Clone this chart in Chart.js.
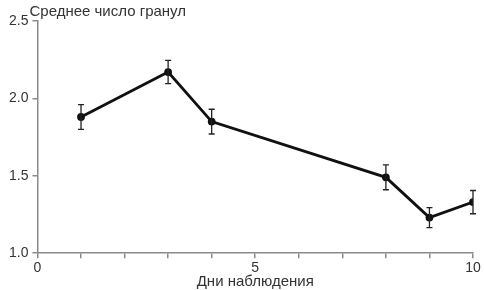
<!DOCTYPE html>
<html>
<head>
<meta charset="utf-8">
<script src="https://cdn.jsdelivr.net/npm/chart.js@4/dist/chart.umd.min.js"></script>
<style>
  html, body { margin: 0; padding: 0; background: #fff; }
  #wrap { width: 484px; height: 290px; }
</style>
</head>
<body>
<div id="wrap"><canvas id="c" width="484" height="290"></canvas></div>
<script>
// days of observation and mean granule count, with +/- error
var days   = [1, 3, 4, 8, 9, 10];
var means  = [1.88, 2.17, 1.85, 1.49, 1.23, 1.33];
var errors = [0.08, 0.075, 0.08, 0.08, 0.065, 0.075];

var xLabels = [0, 5, 10];
var yTitle = 'Среднее число гранул';
var xTitle = 'Дни наблюдения';

var axisColor = '#8a8a8a';
var textColor = '#333';
var fontFamily = '"Liberation Sans", Arial, sans-serif';

// error bars, drawn through the chart scales
var errorBars = {
    id: 'errorBars',
    afterDatasetsDraw: function(chart) {
        var ctx = chart.ctx;
        var xs = chart.scales.x, ys = chart.scales.y;
        ctx.save();
        ctx.strokeStyle = '#222';
        ctx.lineWidth = 1.3;
        for (var i = 0; i < days.length; i++) {
            var px = xs.getPixelForValue(days[i]);
            var top = ys.getPixelForValue(means[i] + errors[i]);
            var bot = ys.getPixelForValue(means[i] - errors[i]);
            ctx.beginPath();
            ctx.moveTo(px, top); ctx.lineTo(px, bot);
            ctx.moveTo(px - 3, top); ctx.lineTo(px + 3, top);
            ctx.moveTo(px - 3, bot); ctx.lineTo(px + 3, bot);
            ctx.stroke();
        }
        ctx.restore();
    }
};

// y title sits horizontally at the top of the axis
var topTitle = {
    id: 'topTitle',
    afterDraw: function(chart) {
        var ctx = chart.ctx;
        ctx.save();
        ctx.fillStyle = textColor;
        ctx.font = '15px ' + fontFamily;
        ctx.textBaseline = 'middle';
        ctx.textAlign = 'left';
        ctx.fillText(yTitle, chart.chartArea.left - 8, 12);
        ctx.restore();
    }
};

new Chart(document.getElementById('c'), {
    type: 'line',
    data: {
        datasets: [{
            data: days.map(function(d, i) { return {x: d, y: means[i]}; }),
            borderColor: '#111',
            backgroundColor: '#111',
            borderWidth: 2.8,
            pointRadius: 2.5,
            pointHoverRadius: 2.5,
            tension: 0
        }]
    },
    options: {
        responsive: false,
        animation: false,
        layout: { padding: { top: 21, right: 11, left: 5, bottom: 0 } },
        plugins: { legend: { display: false }, tooltip: { enabled: false } },
        scales: {
            x: {
                type: 'linear',
                min: 0, max: 10,
                border: { display: true, color: axisColor, width: 1.5 },
                grid: { display: true, drawOnChartArea: false, drawTicks: true, tickLength: 5, color: axisColor, lineWidth: 1.5 },
                ticks: {
                    stepSize: 1,
                    autoSkip: false,
                    maxRotation: 0,
                    color: textColor,
                    padding: 2,
                    font: { family: fontFamily, size: 14 },
                    callback: function(v) { return xLabels.indexOf(v) >= 0 ? String(v) : ''; }
                },
                title: {
                    display: true,
                    text: xTitle,
                    color: textColor,
                    font: { family: fontFamily, size: 15 },
                    padding: { top: -6, bottom: -1 }
                }
            },
            y: {
                min: 1.0, max: 2.5,
                border: { display: true, color: axisColor, width: 1.5 },
                grid: { display: true, drawOnChartArea: false, drawTicks: true, tickLength: 5, color: axisColor, lineWidth: 1.5 },
                ticks: {
                    stepSize: 0.5,
                    color: textColor,
                    padding: 4,
                    font: { family: fontFamily, size: 14 },
                    callback: function(v) { return v.toFixed(1); }
                }
            }
        }
    },
    plugins: [errorBars, topTitle]
});
</script>
</body>
</html>
